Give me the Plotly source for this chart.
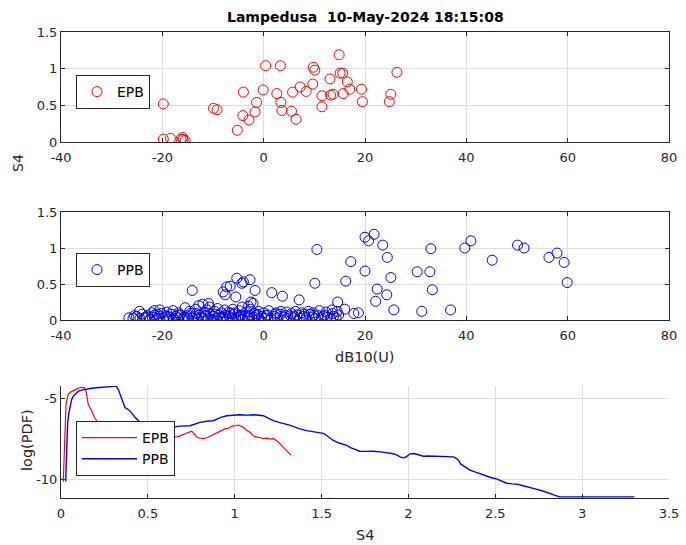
import plotly.graph_objects as go

# ---------------- data ----------------
epb_x = [-19.8, -19.8, -18.4, -16.3, -15.9, -15.5, -16.0, -9.9, -9.2, -5.2, -4.1, -4.0,
         -2.9, -1.7, -1.4, -0.1, 0.4, 2.6, 3.3, 3.4, 3.6, 5.5, 5.7, 6.4, 7.2, 8.4, 9.7,
         9.8, 10.1, 11.5, 11.5, 13.1, 13.2, 13.7, 14.9, 15.1, 15.6, 15.7, 16.5, 17.0,
         19.3, 19.5, 24.8, 25.1, 26.3]
epb_y = [0.52, 0.04, 0.05, 0.04, 0.03, 0.02, 0.06, 0.46, 0.44, 0.16, 0.36, 0.68,
         0.30, 0.41, 0.54, 0.71, 1.04, 0.66, 1.04, 0.54, 0.43, 0.42, 0.68, 0.31, 0.75,
         0.69, 0.79, 1.02, 0.98, 0.63, 0.48, 0.86, 0.64, 0.65, 1.19, 0.94, 0.94, 0.66,
         0.82, 0.72, 0.72, 0.55, 0.55, 0.65, 0.95]

ppb_x = [
    # low dense band
    -26.6, -25.8, -25.1, -24.4, -24.0, -23.5, -22.9, -22.4, -22.0, -21.5, -21.1, -20.7,
    -20.2, -19.8, -19.4, -19.0, -18.6, -18.2, -17.8, -17.3, -16.9, -16.5, -16.1, -15.7,
    -15.2, -14.8, -14.4, -14.0, -13.6, -13.1, -12.7, -12.3, -11.9, -11.4, -11.0, -10.6,
    -10.2, -9.8, -9.3, -8.9, -8.5, -8.1, -7.6, -7.2, -6.8, -6.3, -5.9, -5.5, -5.0, -4.6,
    -4.1, -3.7, -3.2, -2.8, -2.3, -1.9, -1.4, -0.9, -0.4, 0.2, 0.8, 1.4, 2.1, 2.7, 3.3,
    4.0, 4.6, 5.3, 5.9, 6.6, 7.2, 7.8, 8.4, 9.0, 9.6, 10.2, 10.8, 11.4, 12.0, 12.6, 13.2,
    13.8, 14.3, 14.8,
    -25.5, -23.2, -21.0, -18.9, -17.0, -15.0, -13.3, -11.6, -9.5, -7.9, -6.6, -4.4, -3.0,
    -1.2, 0.5, 2.3, 4.3, 6.1, 8.0, 9.9, 11.8, 13.6,
    # upper part of band
    -24.5, -22.1, -20.5, -19.1, -17.9, -16.8, -15.5, -14.6, -13.4, -12.8, -11.8, -11.2,
    -10.7, -9.7, -9.1, -8.3, -7.7, -6.9, -6.1, -5.6, -4.8, -4.3, -3.5, -2.6, -1.8, -1.0,
    0.0, 1.0, 2.4, 3.4, 4.5, 5.5, 6.3, 7.5, 8.8, 9.8, 11.0, 12.3, 13.5, 14.5,
    -2.5, -3.0, -12.0, -21.6, -10.9, -2.1,
    # scattered higher points
    -14.1, -5.3, -4.0, -4.3, -2.7, -1.7, -7.3, -6.6, -8.0, -7.6, -5.5, 1.6, 3.7, 7.0,
    10.1, 16.2, 14.6, 10.5, 16.0, 17.8, 18.7, 20.0, 21.8, 20.7, 23.5, 24.4, 17.2, 20.0,
    25.1, 22.4, 24.3, 22.1, 25.7, 31.2, 36.9, 33.0, 30.3, 32.8, 33.3, 39.7, 40.9, 45.1,
    50.1, 51.4, 56.3, 57.9, 59.3, 59.9,
]
ppb_y = [
    0.03, 0.02, 0.05, 0.02, 0.08, 0.03, 0.06, 0.01, 0.04, 0.07, 0.02, 0.05,
    0.09, 0.03, 0.06, 0.01, 0.04, 0.08, 0.02, 0.05, 0.03, 0.07, 0.01, 0.04,
    0.06, 0.02, 0.09, 0.03, 0.05, 0.01, 0.07, 0.04, 0.02, 0.06, 0.03, 0.08,
    0.01, 0.05, 0.03, 0.07, 0.02, 0.04, 0.06, 0.01, 0.05, 0.03, 0.08, 0.02, 0.04, 0.06,
    0.01, 0.05, 0.03, 0.07, 0.02, 0.04, 0.06, 0.02, 0.05, 0.03, 0.07, 0.02, 0.05, 0.03, 0.08,
    0.04, 0.02, 0.06, 0.03, 0.07, 0.02, 0.05, 0.03, 0.08, 0.04, 0.02, 0.06, 0.03, 0.07, 0.04, 0.02,
    0.05, 0.03, 0.07,
    0.06, 0.04, 0.08, 0.05, 0.07, 0.03, 0.09, 0.06, 0.08, 0.03, 0.09, 0.07, 0.05,
    0.08, 0.06, 0.08, 0.06, 0.05, 0.08, 0.07, 0.05, 0.09,
    0.12, 0.10, 0.14, 0.11, 0.13, 0.10, 0.17, 0.12, 0.15, 0.20, 0.11, 0.14,
    0.18, 0.12, 0.16, 0.10, 0.14, 0.11, 0.15, 0.10, 0.13, 0.18, 0.11, 0.15, 0.09, 0.12,
    0.10, 0.13, 0.10, 0.12, 0.11, 0.09, 0.12, 0.10, 0.12, 0.10, 0.13, 0.11, 0.14, 0.12,
    0.25, 0.19, 0.22, 0.13, 0.23, 0.23,
    0.41, 0.58, 0.53, 0.51, 0.56, 0.41, 0.46, 0.47, 0.39, 0.35, 0.32, 0.38, 0.33, 0.28,
    0.51, 0.54, 0.25, 0.98, 0.15, 0.09, 0.10, 1.15, 1.19, 1.10, 1.04, 0.87, 0.81, 0.68,
    0.59, 0.43, 0.35, 0.26, 0.14, 0.12, 0.14, 0.99, 0.67, 0.67, 0.42, 1.00, 1.10, 0.83,
    1.04, 1.00, 0.87, 0.93, 0.80, 0.52,
]

pdf_epb_s4 = [0.013, 0.016, 0.019, 0.024, 0.029, 0.036, 0.042, 0.055, 0.071, 0.09, 0.109,
              0.132, 0.144, 0.150, 0.157, 0.167, 0.177, 0.192, 0.22, 0.30, 0.40, 0.50, 0.60,
              0.675, 0.700, 0.723, 0.752, 0.768, 0.781, 0.800, 0.820, 0.840, 0.858, 0.877,
              0.906, 0.925, 0.944, 0.963, 0.983, 1.011, 1.021, 1.035, 1.050, 1.069, 1.088,
              1.107, 1.127, 1.150, 1.165, 1.184, 1.205, 1.222, 1.232, 1.250, 1.270, 1.290,
              1.300, 1.312, 1.324]
pdf_epb_val = [-10.15, -9.0, -7.59, -6.2, -5.34, -4.95, -4.72, -4.58, -4.48, -4.38, -4.31,
               -4.28, -4.52, -4.9, -5.34, -5.55, -5.75, -6.15, -6.6, -7.0, -7.3, -7.4, -7.4,
               -7.35, -7.25, -7.15, -7.01, -7.2, -7.38, -7.45, -7.48, -7.42, -7.32, -7.25,
               -7.07, -6.98, -6.87, -6.83, -6.71, -6.66, -6.63, -6.70, -6.77, -6.95, -7.07,
               -7.3, -7.38, -7.42, -7.48, -7.44, -7.50, -7.48, -7.53, -7.68, -7.90, -8.10,
               -8.22, -8.35, -8.50]

pdf_ppb_s4 = [0.027, 0.030, 0.033, 0.038, 0.045, 0.052, 0.061, 0.071, 0.085, 0.100, 0.125,
              0.148, 0.175, 0.205, 0.235, 0.263, 0.290, 0.317, 0.330, 0.340, 0.349, 0.358,
              0.368, 0.385, 0.397, 0.412, 0.426, 0.45, 0.50, 0.57, 0.62, 0.685, 0.743,
              0.800, 0.820, 0.850, 0.877, 0.896, 0.920, 0.954, 0.980, 1.011, 1.030, 1.069,
              1.107, 1.140, 1.165, 1.190, 1.222, 1.250, 1.280, 1.310, 1.337, 1.370, 1.414,
              1.450, 1.490, 1.510, 1.530, 1.550, 1.567, 1.600, 1.644, 1.670, 1.700, 1.720,
              1.760, 1.798, 1.840, 1.875, 1.905, 1.930, 1.952, 1.970, 1.985, 2.010, 2.030,
              2.048, 2.070, 2.086, 2.115, 2.140, 2.180, 2.220, 2.260, 2.275, 2.290, 2.300,
              2.330, 2.355, 2.390, 2.430, 2.470, 2.510, 2.540, 2.566, 2.600, 2.623, 2.660,
              2.700, 2.740, 2.777, 2.810, 2.844, 2.870, 2.950, 3.050, 3.150, 3.250, 3.300]
pdf_ppb_val = [-10.15, -9.4, -8.6, -6.56, -5.9, -5.44, -5.05, -4.83, -4.65, -4.52, -4.44,
               -4.38, -4.34, -4.31, -4.28, -4.25, -4.23, -4.21, -4.42, -4.75, -5.03, -5.30,
               -5.54, -5.65, -5.75, -5.95, -6.15, -6.4, -6.7, -6.83, -6.8, -6.70, -6.67,
               -6.46, -6.42, -6.38, -6.36, -6.26, -6.15, -6.05, -6.03, -6.01, -5.99, -6.01,
               -5.99, -6.02, -6.05, -6.18, -6.36, -6.45, -6.52, -6.62, -6.71, -6.85, -6.98,
               -7.03, -7.08, -7.15, -7.28, -7.45, -7.59, -7.75, -7.90, -8.05, -8.15, -8.26,
               -8.27, -8.26, -8.30, -8.34, -8.40, -8.47, -8.61, -8.67, -8.62, -8.42, -8.40,
               -8.45, -8.50, -8.57, -8.56, -8.57, -8.58, -8.60, -8.61, -8.70, -8.85, -9.05,
               -9.25, -9.43, -9.58, -9.74, -9.88, -10.00, -10.12, -10.25, -10.29, -10.31,
               -10.41, -10.51, -10.63, -10.75, -10.88, -11.00, -11.10, -11.10, -11.10,
               -11.10, -11.10, -11.10]

x_ticks_db = [-40, -20, 0, 20, 40, 60, 80]
x_ticktext_db = ["-40", "-20", "0", "20", "40", "60", "80"]
y_ticks_s4 = [0, 0.5, 1, 1.5]
y_ticktext_s4 = ["0", "0.5", "1", "1.5"]
x_ticks_pdf = [0, 0.5, 1, 1.5, 2, 2.5, 3, 3.5]
x_ticktext_pdf = ["0", "0.5", "1", "1.5", "2", "2.5", "3", "3.5"]
y_ticks_pdf = [-10, -5]
y_ticktext_pdf = ["-10", "-5"]

title_text = "Lampedusa  10-May-2024 18:15:08"

# ---------------- figure ----------------
W, H = 686, 545
RED = "#ff0000"
BLUE = "#0000ff"
AX = "#262626"
GRID = "#dedede"
FONT = "DejaVu Sans, Verdana, sans-serif"

def py(p):
    return 1 - p / H

fig = go.Figure()
fig.add_trace(go.Scatter(x=epb_x, y=epb_y, mode="markers", name="EPB",
                         marker=dict(symbol="circle-open", size=10, color=RED,
                                     line=dict(width=1, color=RED)),
                         xaxis="x", yaxis="y", legend="legend"))
fig.add_trace(go.Scatter(x=ppb_x, y=ppb_y, mode="markers", name="PPB",
                         marker=dict(symbol="circle-open", size=10, color=BLUE,
                                     line=dict(width=1, color=BLUE)),
                         xaxis="x2", yaxis="y2", legend="legend2"))
fig.add_trace(go.Scatter(x=pdf_epb_s4, y=pdf_epb_val, mode="lines", name="EPB",
                         line=dict(color=RED, width=1.2),
                         xaxis="x3", yaxis="y3", legend="legend3"))
fig.add_trace(go.Scatter(x=pdf_ppb_s4, y=pdf_ppb_val, mode="lines", name="PPB",
                         line=dict(color=BLUE, width=1.4),
                         xaxis="x3", yaxis="y3", legend="legend3"))

xdom = [61 / W, 669 / W]
common = dict(showline=True, linecolor=AX, linewidth=1, ticks="inside", ticklen=4,
              tickcolor=AX, showgrid=True, gridcolor=GRID, gridwidth=1, zeroline=False,
              automargin=False, tickfont=dict(family=FONT, size=13, color=AX))

legend_common = dict(bgcolor="white", bordercolor=AX, borderwidth=1,
                     font=dict(family=FONT, size=14, color="black"),
                     xanchor="left", yanchor="top", tracegroupgap=0, itemwidth=30)

fig.update_layout(
    width=W, height=H, margin=dict(l=0, r=0, t=0, b=0, autoexpand=False),
    paper_bgcolor="white", plot_bgcolor="white",
    font=dict(family=FONT, size=13, color=AX),
    xaxis=dict(domain=xdom, range=[-40, 80], tickvals=x_ticks_db, ticktext=x_ticktext_db,
               anchor="y", mirror="ticks", ticklabelstandoff=3, **common),
    yaxis=dict(domain=[py(142), py(32)], range=[0, 1.5], tickvals=y_ticks_s4,
               ticktext=y_ticktext_s4, anchor="x", mirror="ticks", **common),
    xaxis2=dict(domain=xdom, range=[-40, 80], tickvals=x_ticks_db, ticktext=x_ticktext_db,
                anchor="y2", mirror="ticks", ticklabelstandoff=3, **common),
    yaxis2=dict(domain=[py(320), py(212)], range=[0, 1.5], tickvals=y_ticks_s4,
                ticktext=y_ticktext_s4, anchor="x2", mirror="ticks", **common),
    xaxis3=dict(domain=xdom, range=[0, 3.5], tickvals=x_ticks_pdf, ticktext=x_ticktext_pdf,
                anchor="y3", ticklabelstandoff=3, layer="below traces", **common),
    yaxis3=dict(domain=[py(498), py(386)], range=[-11.17, -4.2], tickvals=y_ticks_pdf,
                ticktext=y_ticktext_pdf, anchor="x3", layer="below traces", **common),
    legend=dict(x=76 / W, y=py(75), **legend_common),
    legend2=dict(x=76 / W, y=py(253), **legend_common),
    legend3=dict(x=76 / W, y=py(421), **{**legend_common, "itemwidth": 55}),
    showlegend=True,
)

ann = [
    dict(text="<b>" + title_text.replace("  ", "&nbsp; ") + "</b>", x=365 / W, y=py(17),
         font=dict(size=14, color="black")),
    dict(text="S4", x=18 / W, y=py(163), textangle=-90, font=dict(size=14, color=AX)),
    dict(text="dB10(U)", x=365 / W, y=py(357), font=dict(size=14.5, color=AX)),
    dict(text="S4", x=365 / W, y=py(535), font=dict(size=14.5, color=AX)),
    dict(text="log(PDF)", x=27 / W, y=py(440), textangle=-90, font=dict(size=14.5, color=AX)),
]
for a in ann:
    fig.add_annotation(xref="paper", yref="paper", showarrow=False,
                       xanchor="center", yanchor="middle", **a)

fig.write_html("out.html")
